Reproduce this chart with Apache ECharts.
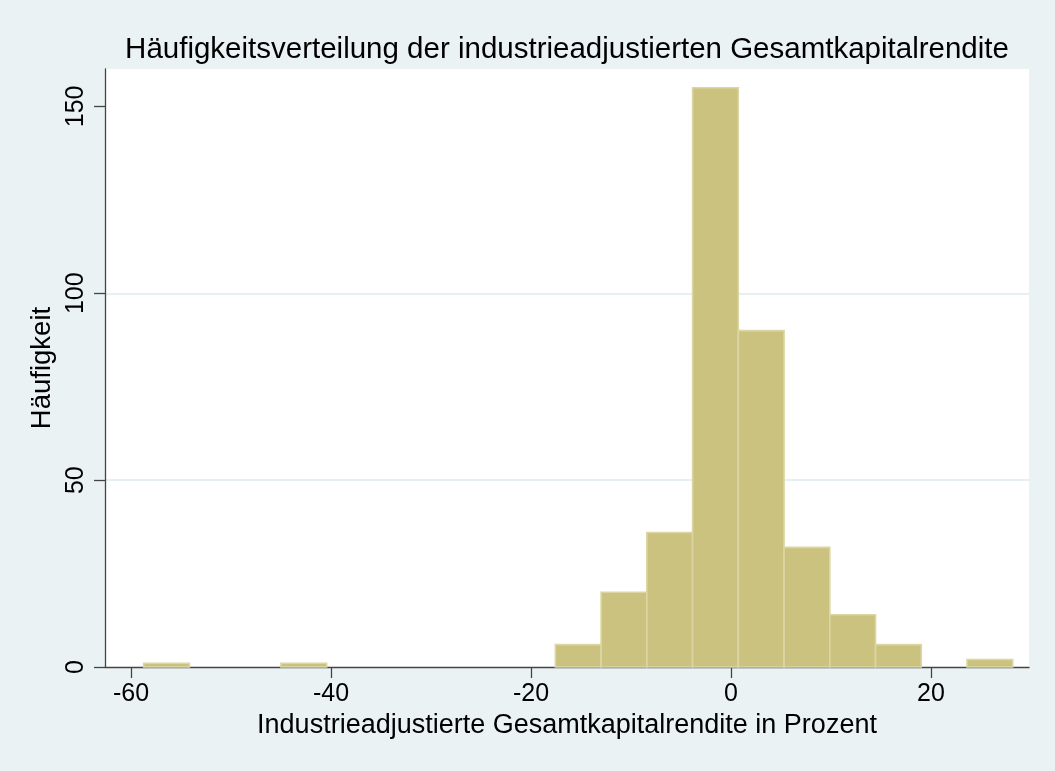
<!DOCTYPE html>
<html>
<head>
<meta charset="utf-8">
<script src="https://cdn.jsdelivr.net/npm/echarts@6/dist/echarts.min.js"></script>
<style>
  html, body { margin: 0; padding: 0; background: #eaf2f3; }
  #main { width: 1055px; height: 771px; }
</style>
</head>
<body>
<div id="main"></div>
<script>
// histogram bins: start of first bin, width of each bin, counts per bin
var binStart = -58.73;
var binWidth = 4.574;
var counts = [1, 0, 0, 1, 0, 0, 0, 0, 0, 6, 20, 36, 155, 90, 32, 14, 6, 0, 2];

var xTicks = [-60, -40, -20, 0, 20];
var yTicks = [0, 50, 100, 150];

var titleText = 'Häufigkeitsverteilung der industrieadjustierten Gesamtkapitalrendite';
var xName = 'Industrieadjustierte Gesamtkapitalrendite in Prozent';
var yName = 'Häufigkeit';

var font = "'Liberation Sans', Arial, sans-serif";

var data = [];
for (var i = 0; i < counts.length; i++) {
    var lo = binStart + i * binWidth;
    data.push([lo, lo + binWidth, counts[i]]);
}

var mychart = echarts.init(document.getElementById('main'));
var option = {
    backgroundColor: '#eaf2f3',
    animation: false,
    textStyle: { fontFamily: font },
    title: {
        text: titleText,
        left: 562,
        top: 30,
        textAlign: 'center',
        textStyle: { fontFamily: font, fontSize: 29.5, fontWeight: 'normal', color: '#000' }
    },
    grid: {
        left: 105, right: 26, top: 69, bottom: 104,
        show: true, backgroundColor: '#fff', borderWidth: 0
    },
    xAxis: {
        type: 'value',
        min: -62.6,
        max: 29.8,
        name: xName,
        nameLocation: 'middle',
        nameGap: 40,
        nameTextStyle: { fontFamily: font, fontSize: 27, color: '#000' },
        axisLine: { show: true, onZero: false, lineStyle: { color: '#444', width: 1.3 } },
        axisTick: { show: true, length: 11, customValues: xTicks, lineStyle: { color: '#444', width: 1.3 } },
        axisLabel: { customValues: xTicks, margin: 15, fontFamily: font, fontSize: 25, color: '#000' },
        splitLine: { show: false }
    },
    yAxis: {
        type: 'value',
        min: 0,
        max: 160,
        interval: 50,
        name: yName,
        nameLocation: 'middle',
        nameGap: 47,
        nameTextStyle: { fontFamily: font, fontSize: 27.5, color: '#000' },
        axisLine: { show: true, onZero: false, lineStyle: { color: '#444', width: 1.3 } },
        axisTick: { show: true, length: 11, customValues: yTicks, lineStyle: { color: '#444', width: 1.3 } },
        axisLabel: { customValues: yTicks, rotate: 90, margin: 16, fontFamily: font, fontSize: 25, color: '#000' },
        splitLine: { show: true, showMinLine: false, showMaxLine: false, lineStyle: { color: '#e6eff1', width: 2 } }
    },
    series: [{
        name: yName,
        type: 'custom',
        data: data,
        encode: { x: [0, 1], y: 2 },
        renderItem: function (params, api) {
            var c = api.value(2);
            if (!c) return null;
            var p0 = api.coord([api.value(0), c]);
            var p1 = api.coord([api.value(1), 0]);
            return {
                type: 'rect',
                shape: { x: p0[0], y: p0[1], width: p1[0] - p0[0], height: p1[1] - p0[1] },
                style: { fill: '#cac27e', stroke: '#dbd6a4', lineWidth: 1.6 }
            };
        }
    }]
};
mychart.setOption(option);
</script>
</body>
</html>
